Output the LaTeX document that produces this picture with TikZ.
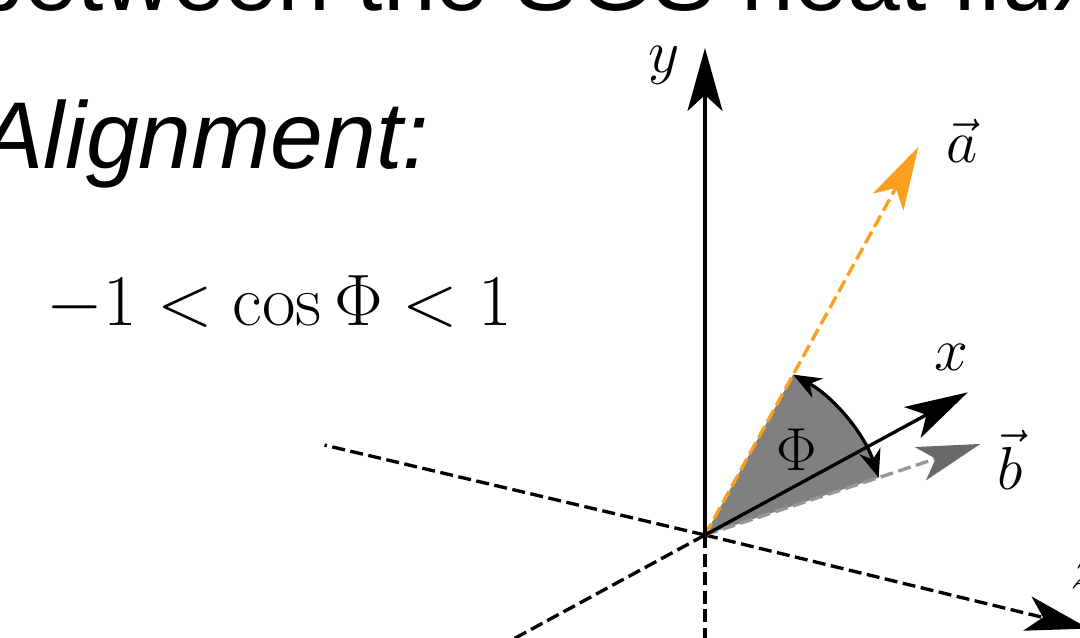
\documentclass[tikz,border=0pt]{standalone}
\usepackage{fontspec}
\newfontfamily\slidefont{Liberation Sans}
\usetikzlibrary{arrows.meta,calc}
\definecolor{vecorange}{RGB}{250,160,30}
\definecolor{vecgray}{RGB}{150,150,150}
\definecolor{headgray}{RGB}{105,105,105}
\definecolor{sectorgray}{RGB}{128,128,128}

\begin{document}
\begin{tikzpicture}[
  axis/.style={line width=0.95pt},
  dashaxis/.style={line width=0.95pt,dash pattern=on 1.3mm off 0.55mm},
  bigtip/.style={-{Stealth[length=6.3mm,width=3.5mm,inset=1.6mm]}},
  lbl/.style={inner sep=0pt,font=\fontsize{18}{20}\selectfont}]
\useasboundingbox (0,0) rectangle (10.8,6.37);
\clip (0,0) rectangle (10.8,6.37);
% slide text
\node[anchor=base west,inner sep=0pt,font=\slidefont\fontsize{27}{30}\selectfont] (title) at (-0.29,6.27) {between the SGS heat flux};
\node[anchor=base west,inner sep=0pt,font=\slidefont\itshape\fontsize{27}{30}\selectfont] (align) at (-0.2,4.69) {Alignment:};
\node[anchor=base west,inner sep=0pt,font=\fontsize{20.7}{23}\selectfont] (range) at (0.46,3.12) {$-1<\cos\Phi<1$};
% axes and vectors
\coordinate (O) at (7.05,1.02);
\coordinate (ytip) at ($(O)+(90:4.87)$);
\coordinate (xtip) at ($(O)+(28.5:2.99)$);
\coordinate (ztip) at ($(O)+(-13.7:3.95)$);
\coordinate (atip) at ($(O)+(61.2:4.43)$);
\coordinate (btip) at ($(O)+(18.3:2.90)$);
\coordinate (negx) at ($(O)+(208.5:3.2)$);
\coordinate (negy) at ($(O)+(0,-1.3)$);
\coordinate (negz) at ($(O)+(166.7:3.91)$);
\coordinate (arca) at ($(O)+(61.2:1.83)$);
\fill[sectorgray] (O) -- (arca) arc[start angle=61.2,end angle=18.3,radius=1.83] -- cycle;
\draw[dashaxis] (O) -- (negz);
\draw[dashaxis] (O) -- (negx);
\draw[dashaxis] (O) -- (negy);
\draw[dashaxis,bigtip] (O) -- (ztip);
\draw[dashaxis,vecgray,-{Stealth[length=6.3mm,width=3.5mm,inset=1.6mm,color=headgray]}] (O) -- (btip);
\draw[dashaxis,vecorange,bigtip] (O) -- (atip);
\draw[axis,bigtip] (O) -- (ytip);
\draw[axis,bigtip] (O) -- (xtip);
\draw[axis,{Stealth[length=2.8mm,width=2.2mm]}-{Stealth[length=2.8mm,width=2.2mm]}] (arca) arc[start angle=61.2,end angle=18.3,radius=1.83];
% labels
\node[lbl] (ylabel) at (6.64,5.72) {$y$};
\node[lbl] (xlabel) at (9.51,2.80) {$x$};
\node[lbl] (zlabel) at (10.86,0.62) {$z$};
\node[lbl] (alabel) at (9.62,4.96) {$\vec{a}$};
\node[lbl] (blabel) at (10.10,1.77) {$\vec{b}$};
\node[lbl] (philabel) at (7.97,1.87) {$\Phi$};
\end{tikzpicture}
\end{document}
